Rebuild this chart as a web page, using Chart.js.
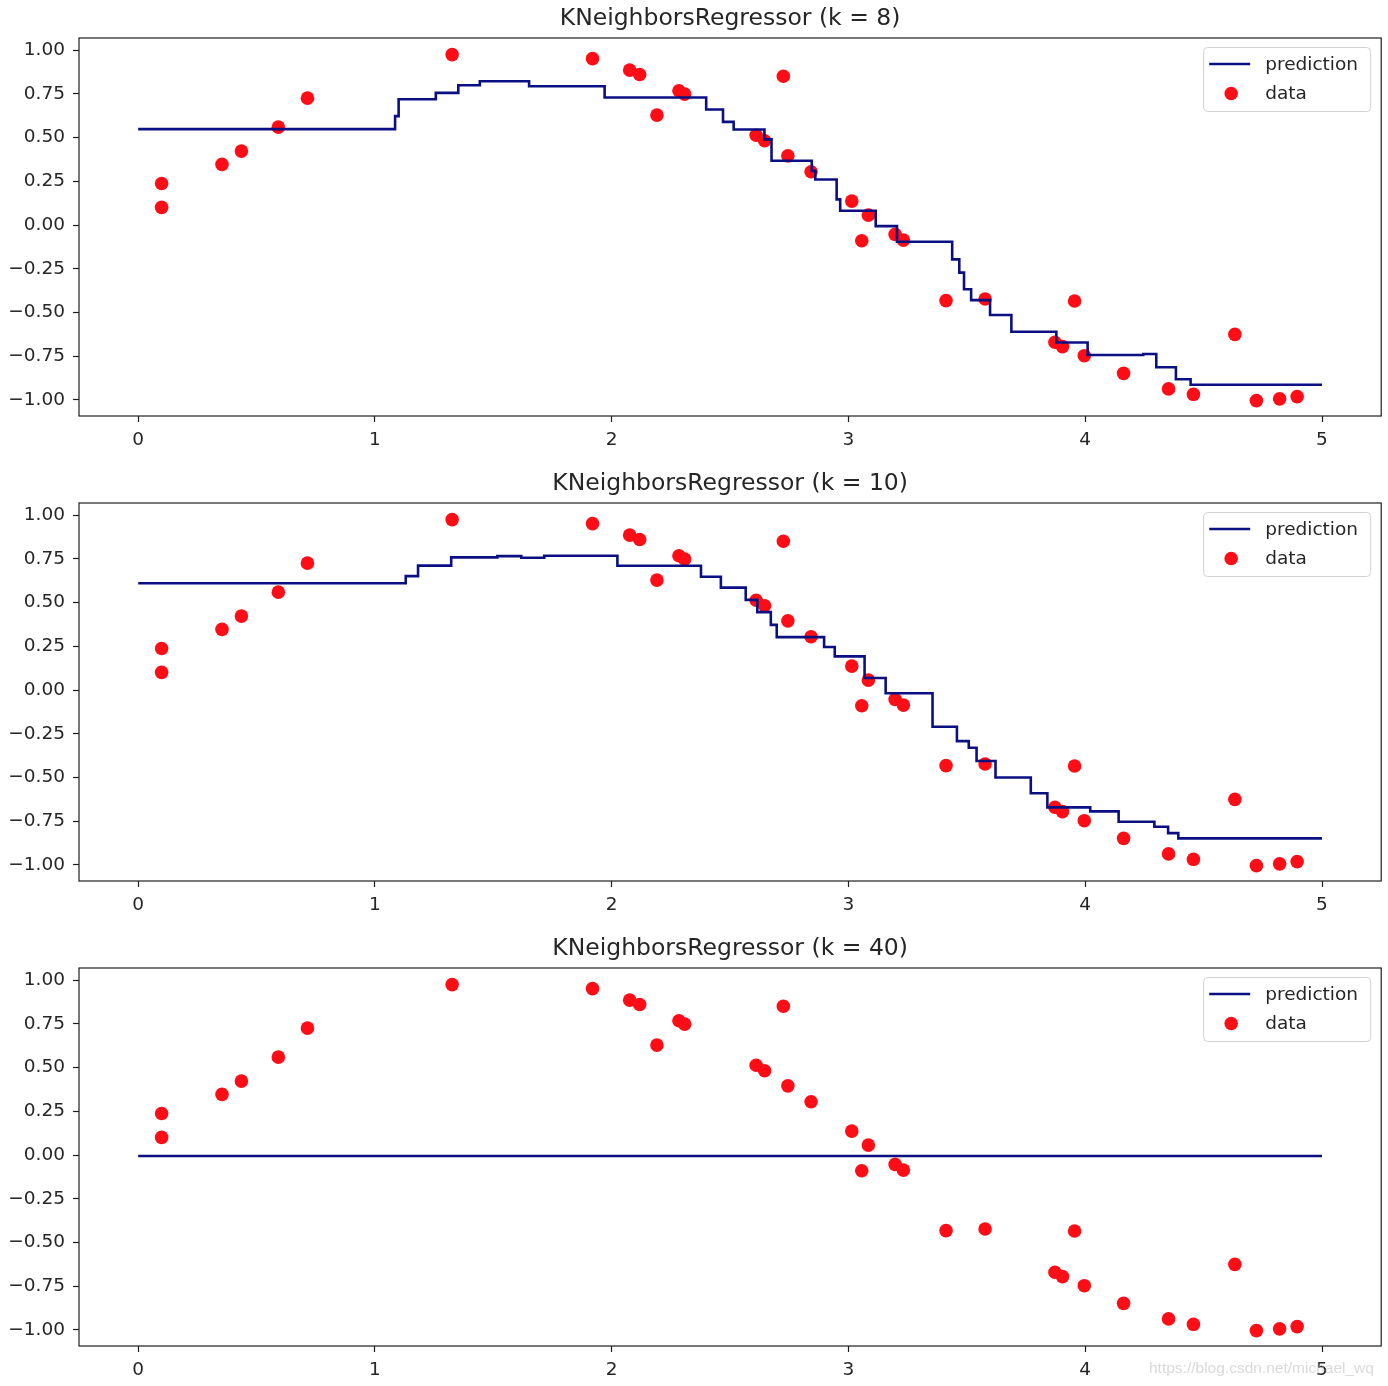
<!DOCTYPE html>
<html>
<head>
<meta charset="utf-8">
<script src="https://cdn.jsdelivr.net/npm/chart.js@4.4.1/dist/chart.umd.min.js"></script>
<style>
html,body{margin:0;padding:0;background:#fff;overflow:hidden;width:1388px;height:1386px;}
.plot{position:absolute;left:0;}
#wm{position:absolute;left:1149px;top:1359px;font-family:"Liberation Sans",Arial,sans-serif;font-size:15.5px;color:rgba(185,185,185,0.55);white-space:nowrap;}
</style>
</head>
<body>
<canvas id="c0" class="plot" width="1388" height="465" style="top:0px"></canvas>
<canvas id="c1" class="plot" width="1388" height="465" style="top:465px"></canvas>
<canvas id="c2" class="plot" width="1388" height="465" style="top:930px"></canvas>
<div id="wm">https://blog.csdn.net/michael_wq</div>
<script>
// ---- tick labels ----
const xTicks = [0, 1, 2, 3, 4, 5];
const yTicks = [-1, -0.75, -0.5, -0.25, 0, 0.25, 0.5, 0.75, 1];

// ---- training data ----
const dataX = [0.099, 0.099, 0.354, 0.436, 0.592, 0.715, 1.326, 1.919, 2.076, 2.118,
               2.191, 2.284, 2.308, 2.610, 2.646, 2.725, 2.744, 2.842, 3.014, 3.056,
               3.084, 3.197, 3.232, 3.412, 3.577, 3.872, 3.904, 3.955, 3.996, 4.162,
               4.352, 4.457, 4.632, 4.723, 4.821, 4.895];
const dataY = [0.238, 0.101, 0.347, 0.423, 0.560, 0.726, 0.975, 0.952, 0.886, 0.861,
               0.629, 0.768, 0.749, 0.514, 0.482, 0.851, 0.396, 0.305, 0.137, -0.090,
               0.057, -0.053, -0.086, -0.432, -0.423, -0.670, -0.695, -0.434, -0.747, -0.848,
               -0.937, -0.968, -0.625, -1.004, -0.994, -0.981];

// ---- neighbour counts / titles ----
const kValues = [8, 10, 40];

// ---- predictions (step start x, level y) ----
const pred8X = [0, 1.085, 1.10, 1.257, 1.352, 1.443, 1.651, 1.970, 2.399, 2.470, 2.515, 2.645, 2.675, 2.845, 2.860, 2.950, 2.965, 3.115, 3.205, 3.438, 3.468, 3.488, 3.518, 3.598, 3.688, 3.878, 4.010, 4.245, 4.300, 4.383, 4.445, 5.0];
const pred8Y = [0.549, 0.623, 0.720, 0.756, 0.800, 0.823, 0.794, 0.730, 0.661, 0.590, 0.547, 0.490, 0.368, 0.310, 0.261, 0.147, 0.082, -0.006, -0.095, -0.196, -0.272, -0.367, -0.429, -0.514, -0.610, -0.672, -0.743, -0.737, -0.813, -0.882, -0.913, -0.913];

const pred10X = [0, 1.130, 1.182, 1.322, 1.517, 1.618, 1.715, 2.024, 2.377, 2.461, 2.566, 2.615, 2.672, 2.697, 2.897, 2.942, 3.068, 3.157, 3.355, 3.458, 3.508, 3.541, 3.621, 3.770, 3.840, 4.021, 4.141, 4.292, 4.350, 4.393, 5.0];
const pred10Y = [0.611, 0.652, 0.712, 0.759, 0.766, 0.757, 0.768, 0.711, 0.648, 0.586, 0.516, 0.446, 0.373, 0.303, 0.246, 0.193, 0.069, -0.018, -0.210, -0.292, -0.330, -0.406, -0.500, -0.590, -0.671, -0.694, -0.753, -0.782, -0.818, -0.848, -0.848];

const pred40X = [0, 5.0];
const pred40Y = [-0.005, -0.005];

const NAVY = '#0a0f82';
const RED = '#ff0d17';
const INK = '#262626';
const FONT = 'DejaVu Sans';

Chart.defaults.font.family = FONT;
Chart.defaults.color = INK;

const framePlugin = {
  id: 'frame',
  afterDatasetsDraw(chart) {
    const {ctx, chartArea: a} = chart;
    ctx.save();
    ctx.strokeStyle = '#1e1e1e';
    ctx.lineWidth = 1.2;
    ctx.strokeRect(a.left, a.top, a.right - a.left, a.bottom - a.top);
    ctx.restore();
  }
};

const legendPlugin = {
  id: 'mplLegend',
  afterDraw(chart) {
    const {ctx, chartArea: a} = chart;
    const w = 167, h = 64;
    const x0 = a.right - 11 - w, y0 = a.top + 9;
    ctx.save();
    ctx.beginPath();
    if (ctx.roundRect) ctx.roundRect(x0 + 0.5, y0 + 0.5, w, h, 4); else ctx.rect(x0 + 0.5, y0 + 0.5, w, h);
    ctx.fillStyle = 'rgba(255,255,255,0.85)';
    ctx.fill();
    ctx.strokeStyle = '#d2d2d2';
    ctx.lineWidth = 1;
    ctx.stroke();
    ctx.font = '18.5px "' + FONT + '"';
    ctx.textBaseline = 'middle';
    ctx.textAlign = 'left';
    chart.data.datasets.forEach((ds, i) => {
      const cy = y0 + 17 + i * 29.5;
      if (ds.type === 'line') {
        ctx.strokeStyle = ds.borderColor;
        ctx.lineWidth = ds.borderWidth;
        ctx.beginPath();
        ctx.moveTo(x0 + 6, cy);
        ctx.lineTo(x0 + 47, cy);
        ctx.stroke();
      } else {
        ctx.fillStyle = ds.backgroundColor;
        ctx.beginPath();
        ctx.arc(x0 + 28, cy, ds.pointRadius, 0, Math.PI * 2);
        ctx.fill();
      }
      ctx.fillStyle = INK;
      ctx.fillText(ds.label, x0 + 62, cy + 1);
    });
    ctx.restore();
  }
};

function fmtY(v) {
  return Number(v).toFixed(2).replace('-', '\u2212');
}

function makeChart(id, k, px, py) {
  const predPts = px.map((x, i) => ({x: x, y: py[i]}));
  const dataPts = dataX.map((x, i) => ({x: x, y: dataY[i]}));
  return new Chart(document.getElementById(id), {
    type: 'scatter',
    data: {
      datasets: [
        {type: 'line', label: 'prediction', data: predPts, borderColor: NAVY, borderWidth: 2.6,
         pointRadius: 0, pointHoverRadius: 0, stepped: 'before', fill: false, tension: 0},
        {type: 'scatter', label: 'data', data: dataPts, backgroundColor: RED, borderWidth: 0,
         pointRadius: 6.8, pointHoverRadius: 6.8}
      ]
    },
    options: {
      responsive: false,
      animation: false,
      devicePixelRatio: 1,
      events: [],
      layout: {padding: {left: 0, right: 5, top: 0, bottom: 0}},
      plugins: {
        legend: {display: false},
        tooltip: {enabled: false},
        title: {
          display: true,
          text: 'KNeighborsRegressor (k = ' + k + ')',
          fullSize: false,
          color: INK,
          font: {family: FONT, size: 23.5, weight: 'normal', lineHeight: 1},
          padding: {top: 7.5, bottom: 7}
        }
      },
      scales: {
        x: {
          type: 'linear', min: -0.25, max: 5.25,
          afterBuildTicks: s => { s.ticks = xTicks.map(v => ({value: v})); },
          afterFit: s => { s.height = 49; },
          grid: {display: true, drawOnChartArea: false, drawTicks: true, tickLength: 6,
                 tickColor: '#1e1e1e', tickWidth: 1.2, color: 'rgba(0,0,0,0)'},
          border: {display: false},
          ticks: {autoSkip: false, maxRotation: 0, padding: 7, color: INK,
                  font: {family: FONT, size: 18.5}, callback: v => String(v)}
        },
        y: {
          type: 'linear', min: -1.092, max: 1.070,
          afterBuildTicks: s => { s.ticks = yTicks.map(v => ({value: v})); },
          afterFit: s => { s.width = 79; },
          grid: {display: true, drawOnChartArea: false, drawTicks: true, tickLength: 6,
                 tickColor: '#1e1e1e', tickWidth: 1.2, color: 'rgba(0,0,0,0)'},
          border: {display: false},
          ticks: {autoSkip: false, padding: 8, color: INK,
                  font: {family: FONT, size: 18.5}, callback: v => fmtY(v)}
        }
      }
    },
    plugins: [framePlugin, legendPlugin]
  });
}

makeChart('c0', kValues[0], pred8X, pred8Y);
makeChart('c1', kValues[1], pred10X, pred10Y);
makeChart('c2', kValues[2], pred40X, pred40Y);
</script>
</body>
</html>
